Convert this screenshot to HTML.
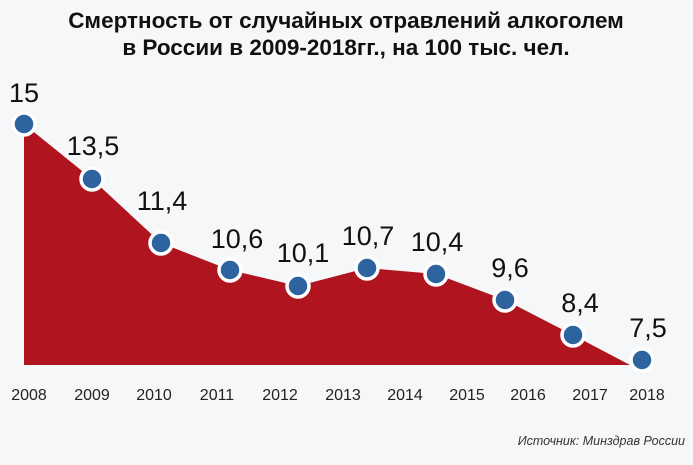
<!DOCTYPE html>
<html><head><meta charset="utf-8"><style>
body{margin:0;width:693px;height:460px;background:#f6f7f9;overflow:hidden;font-family:"Liberation Sans",sans-serif}
</style></head><body>
<svg width="693" height="460" xmlns="http://www.w3.org/2000/svg" font-family="Liberation Sans, sans-serif">
<text x="346" y="28" text-anchor="middle" font-size="22.5" font-weight="bold" fill="#111">Смертность от случайных отравлений алкоголем</text>
<text x="346" y="55" text-anchor="middle" font-size="22.5" font-weight="bold" fill="#111">в России в 2009-2018гг., на 100 тыс. чел.</text>
<polygon fill="#b0151f" points="24,365 24,124 92,179 161,243 230,270 298,286 367,268 436,274 505,300 573,335 630,365"/>
<g fill="#2d639e" stroke="#fff" stroke-width="3.5">
<circle cx="24" cy="124" r="11"/><circle cx="92" cy="179" r="11"/><circle cx="161" cy="243" r="11"/><circle cx="230" cy="270" r="11"/><circle cx="298" cy="286" r="11"/><circle cx="367" cy="268" r="11"/><circle cx="436" cy="274" r="11"/><circle cx="505" cy="300" r="11"/><circle cx="573" cy="335" r="11"/><circle cx="642" cy="360" r="11"/>
</g>
<g font-size="27" fill="#111" text-anchor="middle">
<text x="24" y="102">15</text><text x="93" y="155">13,5</text><text x="162" y="210">11,4</text><text x="237" y="248">10,6</text><text x="303" y="262">10,1</text><text x="368" y="245">10,7</text><text x="437" y="251">10,4</text><text x="510" y="277">9,6</text><text x="580" y="312">8,4</text><text x="648" y="337">7,5</text>
</g>
<g font-size="16" fill="#222" text-anchor="middle">
<text x="29" y="400">2008</text><text x="92" y="400">2009</text><text x="154" y="400">2010</text><text x="217" y="400">2011</text><text x="280" y="400">2012</text><text x="343" y="400">2013</text><text x="405" y="400">2014</text><text x="467" y="400">2015</text><text x="528" y="400">2016</text><text x="590" y="400">2017</text><text x="647" y="400">2018</text>
</g>
<text x="685" y="445" text-anchor="end" font-size="12.5" font-style="italic" fill="#333">Источник: Минздрав России</text>
</svg>
</body></html>
